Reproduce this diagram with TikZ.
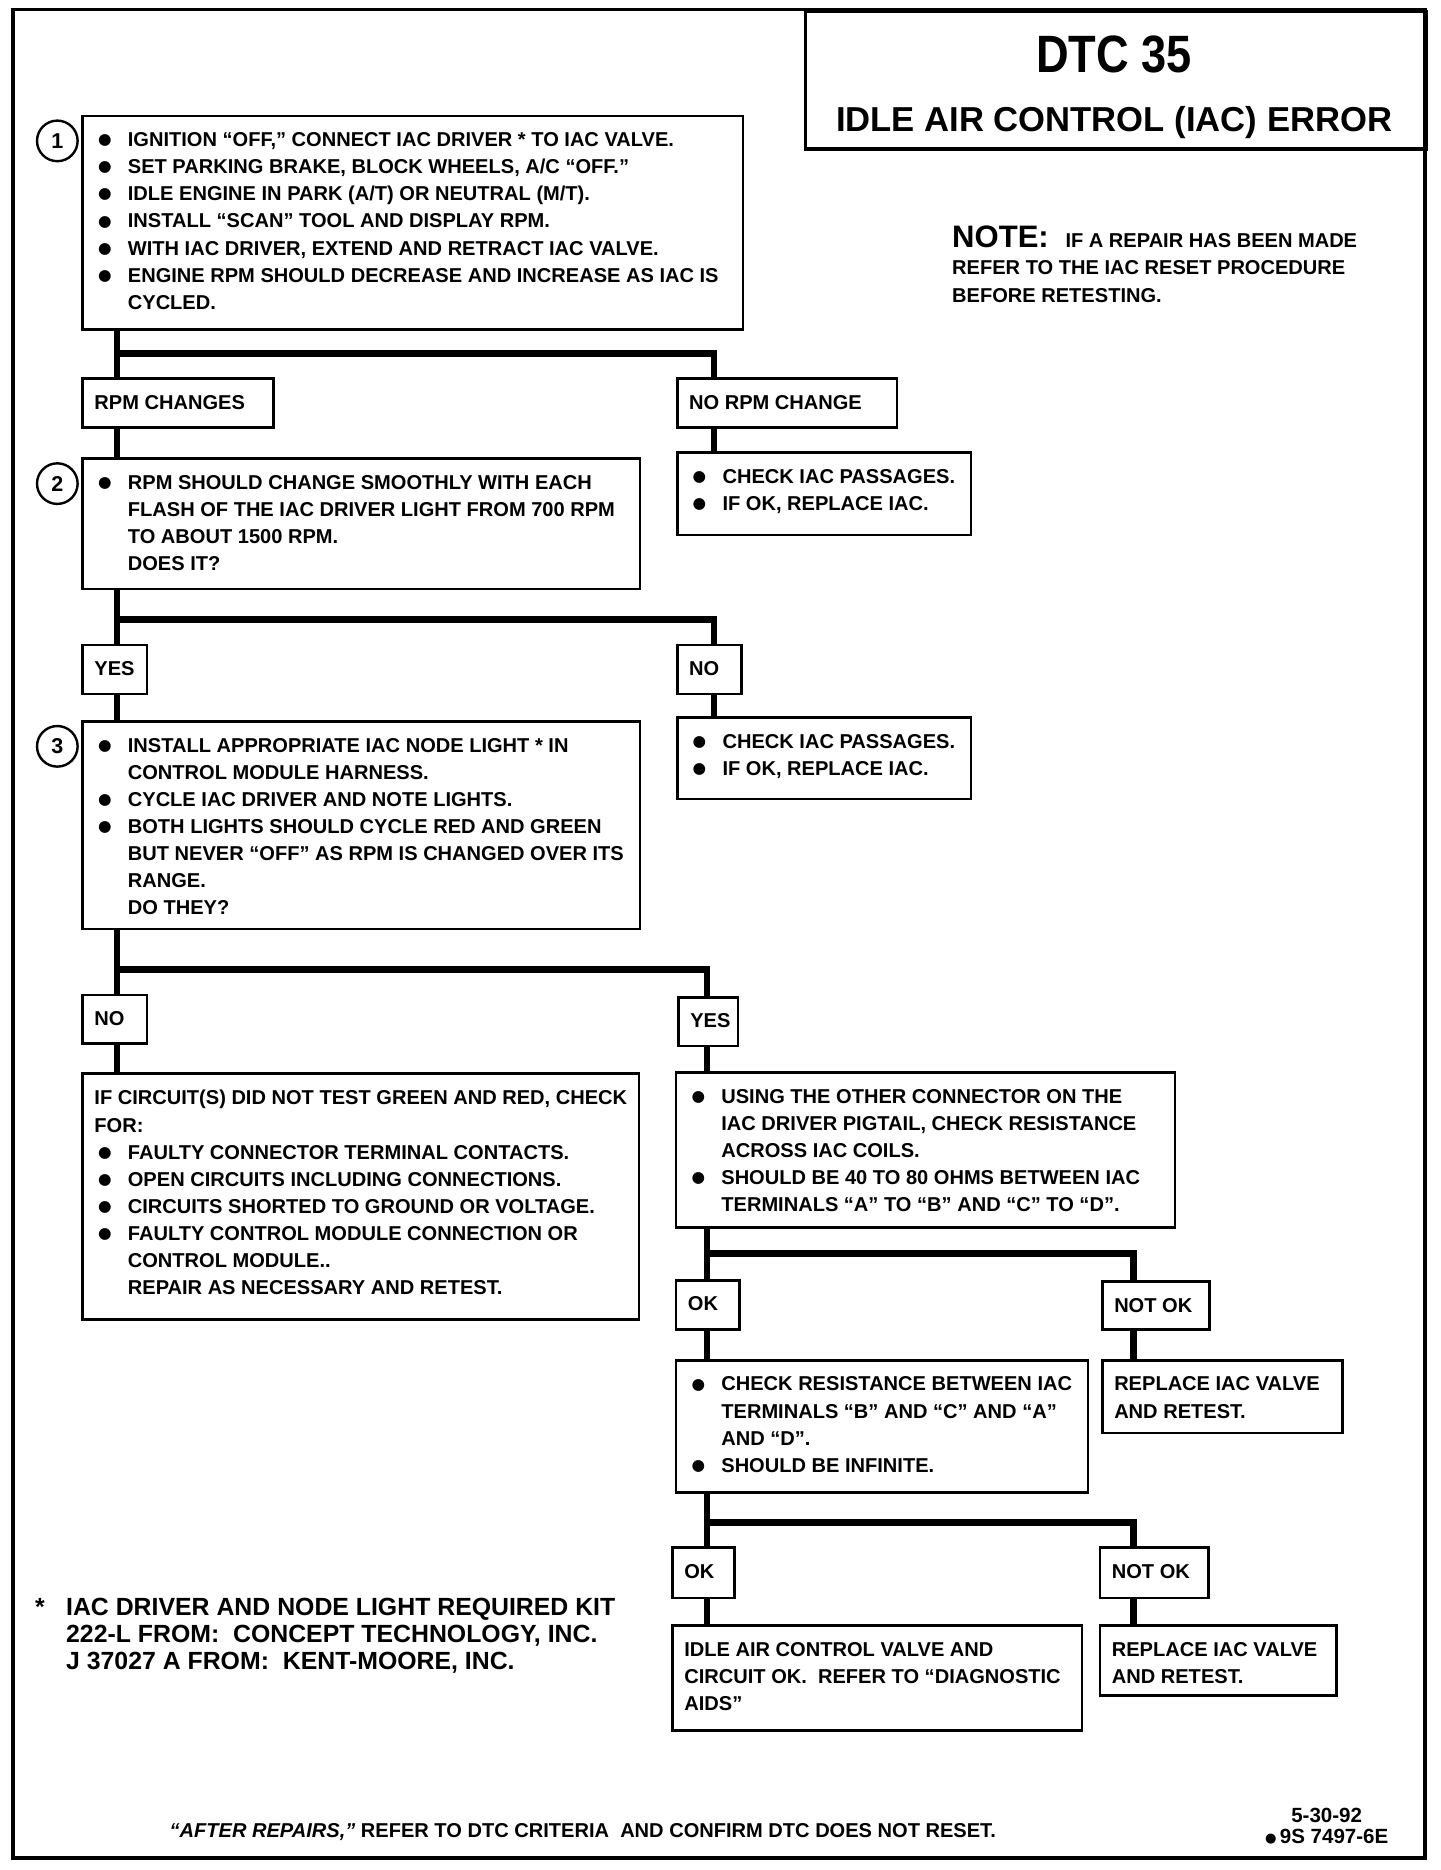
\documentclass[tikz,border=0pt]{standalone}
\usepackage{fontspec}
\setmainfont{Liberation Sans}
\newfontfamily\narrow[FakeStretch=0.86]{Liberation Sans}
\newfontfamily\sym{DejaVu Sans}
\usepackage{tikz}
\definecolor{ink}{HTML}{000000}
\newcommand\txt{\bfseries\fontsize{8.4}{11.35}\selectfont}
\newcommand\panel[3]{\parbox[c][#2][t]{#1}{\leftskip=5pt\rightskip=0pt plus 1fil\vspace*{7pt}#3}}
\newcommand\bigdot{\raisebox{0.8pt}{\sym\fontsize{6.5}{0}\selectfont ●}}
\newcommand\bul{\par\hangindent=14pt\hangafter=1\leavevmode\makebox[14pt][l]{\hspace{1.5pt}\bigdot}}
\tikzset{
  frame/.style={draw=ink, line width=1.6pt},
  box/.style={draw=ink, line width=1.1pt, anchor=north west, inner sep=0pt, font=\txt},
  flow/.style={draw=ink, line width=2.8pt},
  num/.style={circle, draw=ink, line width=1pt, minimum size=17pt, inner sep=0pt, font=\bfseries\fontsize{9}{9}\selectfont},
  lbl/.style={text=ink, inner sep=0pt, font=\txt}
}

\begin{document}
\begin{tikzpicture}[x=0.5pt, y=-0.5pt]
  \useasboundingbox (0,0) rectangle (1206,1566);
  \draw[frame] (11,8) rectangle (1193,1556);

  \node[box, line width=1.6pt, minimum width=260pt, minimum height=57.5pt] (ttl) at (673,8) {};
  \node[lbl, font=\narrow\bfseries\fontsize{22}{22}\selectfont] (dtc) at (933,46) {DTC 35};
  \node[lbl, font=\bfseries\fontsize{14.5}{14.5}\selectfont] (err) at (933,103) {IDLE AIR CONTROL (IAC) ERROR};
  \node[lbl, anchor=north west, align=left] (note) at (797,189)
    {{\fontsize{13}{13}\selectfont NOTE:}\hspace{7pt}IF A REPAIR HAS BEEN MADE\\REFER TO THE IAC RESET PROCEDURE\\BEFORE RETESTING.};

  \coordinate (colA) at (98,0);
  \coordinate (colB) at (598,0);
  \coordinate (colC) at (592,0);
  \coordinate (colD) at (949,0);

  \node[box] (b1) at (68,96) {\panel{276.5pt}{89.5pt}{%
    \bul IGNITION “OFF,” CONNECT IAC DRIVER * TO IAC VALVE.
    \bul SET PARKING BRAKE, BLOCK WHEELS, A/C “OFF.”
    \bul IDLE ENGINE IN PARK (A/T) OR NEUTRAL (M/T).
    \bul INSTALL “SCAN” TOOL AND DISPLAY RPM.
    \bul WITH IAC DRIVER, EXTEND AND RETRACT IAC VALVE.
    \bul ENGINE RPM SHOULD DECREASE AND INCREASE AS IAC IS\\CYCLED.}};
  \node[num] (n1) at (48,118) {1};

  \node[box] (rpm) at (68,316) {\panel{80pt}{20.5pt}{RPM CHANGES}};
  \node[box] (norpm) at (566,316) {\panel{92pt}{20.5pt}{NO RPM CHANGE}};

  \node[box] (b2) at (68,383) {\panel{233.5pt}{54.5pt}{%
    \bul RPM SHOULD CHANGE SMOOTHLY WITH EACH\\FLASH OF THE IAC DRIVER LIGHT FROM 700 RPM\\TO ABOUT 1500 RPM.\\DOES IT?}};
  \node[num] (n2) at (48,405) {2};
  \node[box] (chka) at (566,378) {\panel{123pt}{34.5pt}{%
    \bul CHECK IAC PASSAGES.
    \bul IF OK, REPLACE IAC.}};

  \node[box] (yes1) at (68,539) {\panel{27pt}{20.5pt}{YES}};
  \node[box] (no1) at (566,539) {\panel{27pt}{20.5pt}{NO}};

  \node[box] (b3) at (68,603) {\panel{233.5pt}{87pt}{%
    \bul INSTALL APPROPRIATE IAC NODE LIGHT * IN\\CONTROL MODULE HARNESS.
    \bul CYCLE IAC DRIVER AND NOTE LIGHTS.
    \bul BOTH LIGHTS SHOULD CYCLE RED AND GREEN\\BUT NEVER “OFF” AS RPM IS CHANGED OVER ITS\\RANGE.\\DO THEY?}};
  \node[num] (n3) at (48,625) {3};
  \node[box] (chkb) at (566,600) {\panel{123pt}{34pt}{%
    \bul CHECK IAC PASSAGES.
    \bul IF OK, REPLACE IAC.}};

  \node[box] (no2) at (68,832) {\panel{27pt}{20.5pt}{NO}};
  \node[box] (yes2) at (567,834) {\panel{25pt}{20.5pt}{YES}};

  \node[box] (circ) at (68,898) {\panel{233pt}{103pt}{%
    IF CIRCUIT(S) DID NOT TEST GREEN AND RED, CHECK\\FOR:
    \bul FAULTY CONNECTOR TERMINAL CONTACTS.
    \bul OPEN CIRCUITS INCLUDING CONNECTIONS.
    \bul CIRCUITS SHORTED TO GROUND OR VOLTAGE.
    \bul FAULTY CONTROL MODULE CONNECTION OR\\CONTROL MODULE..\\REPAIR AS NECESSARY AND RETEST.}};
  \node[box] (coil) at (565,897) {\panel{209pt}{65pt}{%
    \bul USING THE OTHER CONNECTOR ON THE\\IAC DRIVER PIGTAIL, CHECK RESISTANCE\\ACROSS IAC COILS.
    \bul SHOULD BE 40 TO 80 OHMS BETWEEN IAC\\TERMINALS “A” TO “B” AND “C” TO “D”.}};

  \node[box] (ok1) at (565,1071) {\panel{26.5pt}{20.5pt}{OK}};
  \node[box] (nok1) at (922,1072) {\panel{45pt}{20pt}{NOT OK}};
  \node[box] (res) at (565,1138) {\panel{172.5pt}{55.5pt}{%
    \bul CHECK RESISTANCE BETWEEN IAC\\TERMINALS “B” AND “C” AND “A”\\AND “D”.
    \bul SHOULD BE INFINITE.}};
  \node[box] (rep1) at (922,1138) {\panel{100.5pt}{30.5pt}{REPLACE IAC VALVE\\AND RETEST.}};

  \node[box] (ok2) at (562,1295) {\panel{26pt}{21pt}{OK}};
  \node[box] (nok2) at (920,1295) {\panel{45.5pt}{21pt}{NOT OK}};
  \node[box] (idle) at (562,1360) {\panel{171.5pt}{44pt}{%
    IDLE AIR CONTROL VALVE AND\\CIRCUIT OK.\ \ REFER TO “DIAGNOSTIC\\AIDS”}};
  \node[box] (rep2) at (920,1360) {\panel{99pt}{29.5pt}{REPLACE IAC VALVE\\AND RETEST.}};

  \draw[flow] (b1.south -| colA) -- (rpm.north -| colA);
  \draw[flow] (rpm.north -| colA) ++(0,10pt) -| (norpm.north -| colB);
  \draw[flow] (rpm.south -| colA) -- (b2.north -| colA);
  \draw[flow] (norpm.south -| colB) -- (chka.north -| colB);
  \draw[flow] (b2.south -| colA) -- (yes1.north -| colA);
  \draw[flow] (yes1.north -| colA) ++(0,10pt) -| (no1.north -| colB);
  \draw[flow] (yes1.south -| colA) -- (b3.north -| colA);
  \draw[flow] (no1.south -| colB) -- (chkb.north -| colB);
  \draw[flow] (b3.south -| colA) -- (no2.north -| colA);
  \draw[flow] (no2.north -| colA) ++(0,10pt) -| (yes2.north -| colC);
  \draw[flow] (no2.south -| colA) -- (circ.north -| colA);
  \draw[flow] (yes2.south -| colC) -- (coil.north -| colC);
  \draw[flow] (coil.south -| colC) -- (ok1.north -| colC);
  \draw[flow] (ok1.north -| colC) ++(0,10.5pt) -| (nok1.north -| colD);
  \draw[flow] (ok1.south -| colC) -- (res.north -| colC);
  \draw[flow] (nok1.south -| colD) -- (rep1.north -| colD);
  \draw[flow] (res.south -| colC) -- (ok2.north -| colC);
  \draw[flow] (ok2.north -| colC) ++(0,10pt) -| (nok2.north -| colD);
  \draw[flow] (ok2.south -| colC) -- (idle.north -| colC);
  \draw[flow] (nok2.south -| colD) -- (rep2.north -| colD);

  \node[lbl, anchor=north west, align=left, font=\bfseries\fontsize{10.4}{11.3}\selectfont] (kit) at (29,1338)
    {\makebox[13pt][l]{*}IAC DRIVER AND NODE LIGHT REQUIRED KIT\\\hspace*{13pt}222-L FROM:\ \ CONCEPT TECHNOLOGY, INC.\\\hspace*{13pt}J 37027 A FROM:\ \ KENT-MOORE, INC.};
  \node[lbl] (rule) at (488,1534) {\textit{“AFTER REPAIRS,”} REFER TO DTC CRITERIA\ \ AND CONFIRM DTC DOES NOT RESET.};
  \node[lbl, align=center, font=\bfseries\fontsize{8.6}{9}\selectfont] (date) at (1111,1529) {5-30-92\\\raisebox{0.6pt}{\sym\fontsize{5.5}{0}\selectfont ●}\,9S 7497-6E};
\end{tikzpicture}
\end{document}
